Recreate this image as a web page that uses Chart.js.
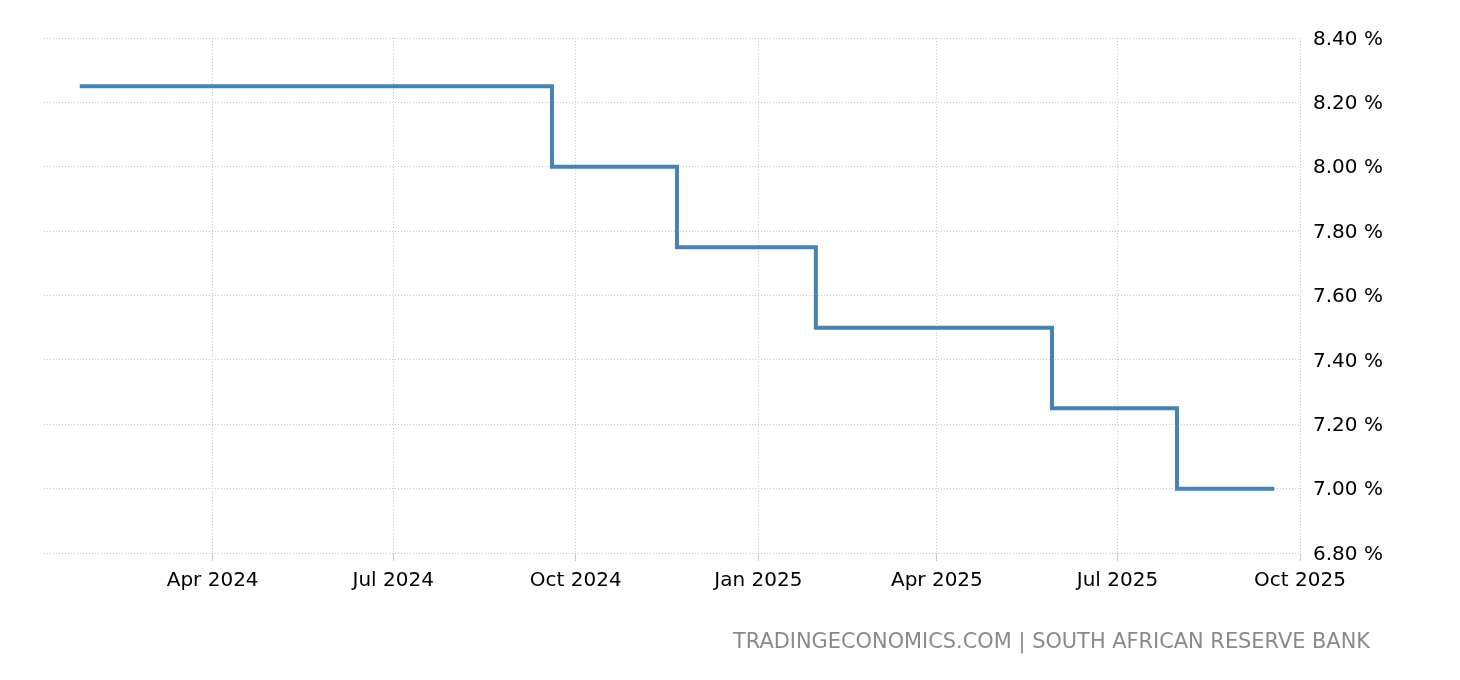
<!DOCTYPE html>
<html>
<head>
<meta charset="utf-8">
<script src="https://cdn.jsdelivr.net/npm/chart.js@4.4.1/dist/chart.umd.min.js"></script>
<style>
  html, body { margin: 0; padding: 0; background: #fff; }
  #wrap { position: relative; width: 1460px; height: 680px; }
  #c { position: absolute; left: 0; top: 0; }
  #src { position: absolute; right: 90px; top: 629px; font-family: "DejaVu Sans", sans-serif; font-size: 20.9px; color: #8a8a8a; white-space: nowrap; }
</style>
</head>
<body>
<div id="wrap">
  <canvas id="c" width="1460" height="680"></canvas>
  <div id="src">TRADINGECONOMICS.COM | SOUTH AFRICAN RESERVE BANK</div>
</div>
<script>
// Data
const dates = ["2024-01-25","2024-03-27","2024-05-30","2024-07-18","2024-09-19","2024-11-21","2025-01-30","2025-03-20","2025-05-29","2025-07-31","2025-09-18"];
const rates = [8.25, 8.25, 8.25, 8.25, 8.00, 7.75, 7.50, 7.50, 7.25, 7.00, 7.00];
const tickDates = ["2024-04-01","2024-07-01","2024-10-01","2025-01-01","2025-04-01","2025-07-01","2025-10-01"];
const tickLabels = ["Apr 2024","Jul 2024","Oct 2024","Jan 2025","Apr 2025","Jul 2025","Oct 2025"];
const xMinDate = "2024-01-07";
const xMaxDate = "2025-10-01";

const toDay = s => Date.parse(s + "T00:00:00Z") / 86400000;
const tickDays = tickDates.map(toDay);
const points = dates.map((d, i) => ({ x: toDay(d), y: rates[i] }));

const font = { family: "'DejaVu Sans', sans-serif", size: 20 };
const gridColor = "#c8c8c8";

new Chart(document.getElementById("c"), {
  type: "line",
  data: {
    datasets: [{
      data: points,
      stepped: true,
      borderColor: "#4682b4",
      borderWidth: 4,
      pointRadius: 0,
      fill: false,
      borderCapStyle: "butt",
      borderJoinStyle: "miter"
    }]
  },
  options: {
    responsive: false,
    animation: false,
    events: [],
    layout: { padding: { left: 44, top: 38, right: 0, bottom: 0 } },
    plugins: { legend: { display: false }, tooltip: { enabled: false } },
    scales: {
      x: {
        type: "linear",
        min: toDay(xMinDate),
        max: toDay(xMaxDate),
        afterBuildTicks: s => { s.ticks = tickDays.map(v => ({ value: v })); },
        afterFit: s => { s.height = 127; },
        ticks: {
          color: "#000",
          font: font,
          padding: 8,
          maxRotation: 0,
          autoSkip: false,
          callback: v => { const i = tickDays.indexOf(v); return i >= 0 ? tickLabels[i] : ""; }
        },
        grid: { color: gridColor, tickLength: 8, tickColor: gridColor, tickBorderDash: [] },
        border: { display: false, dash: [1, 2] }
      },
      y: {
        position: "right",
        min: 6.8,
        max: 8.4,
        afterFit: s => { s.width = 160; },
        ticks: {
          stepSize: 0.2,
          color: "#000",
          font: font,
          padding: 13,
          labelOffset: 1.5,
          callback: v => v.toFixed(2) + " %"
        },
        grid: { color: gridColor, drawTicks: false },
        border: { display: false, dash: [1, 2] }
      }
    }
  }
});
</script>
</body>
</html>
